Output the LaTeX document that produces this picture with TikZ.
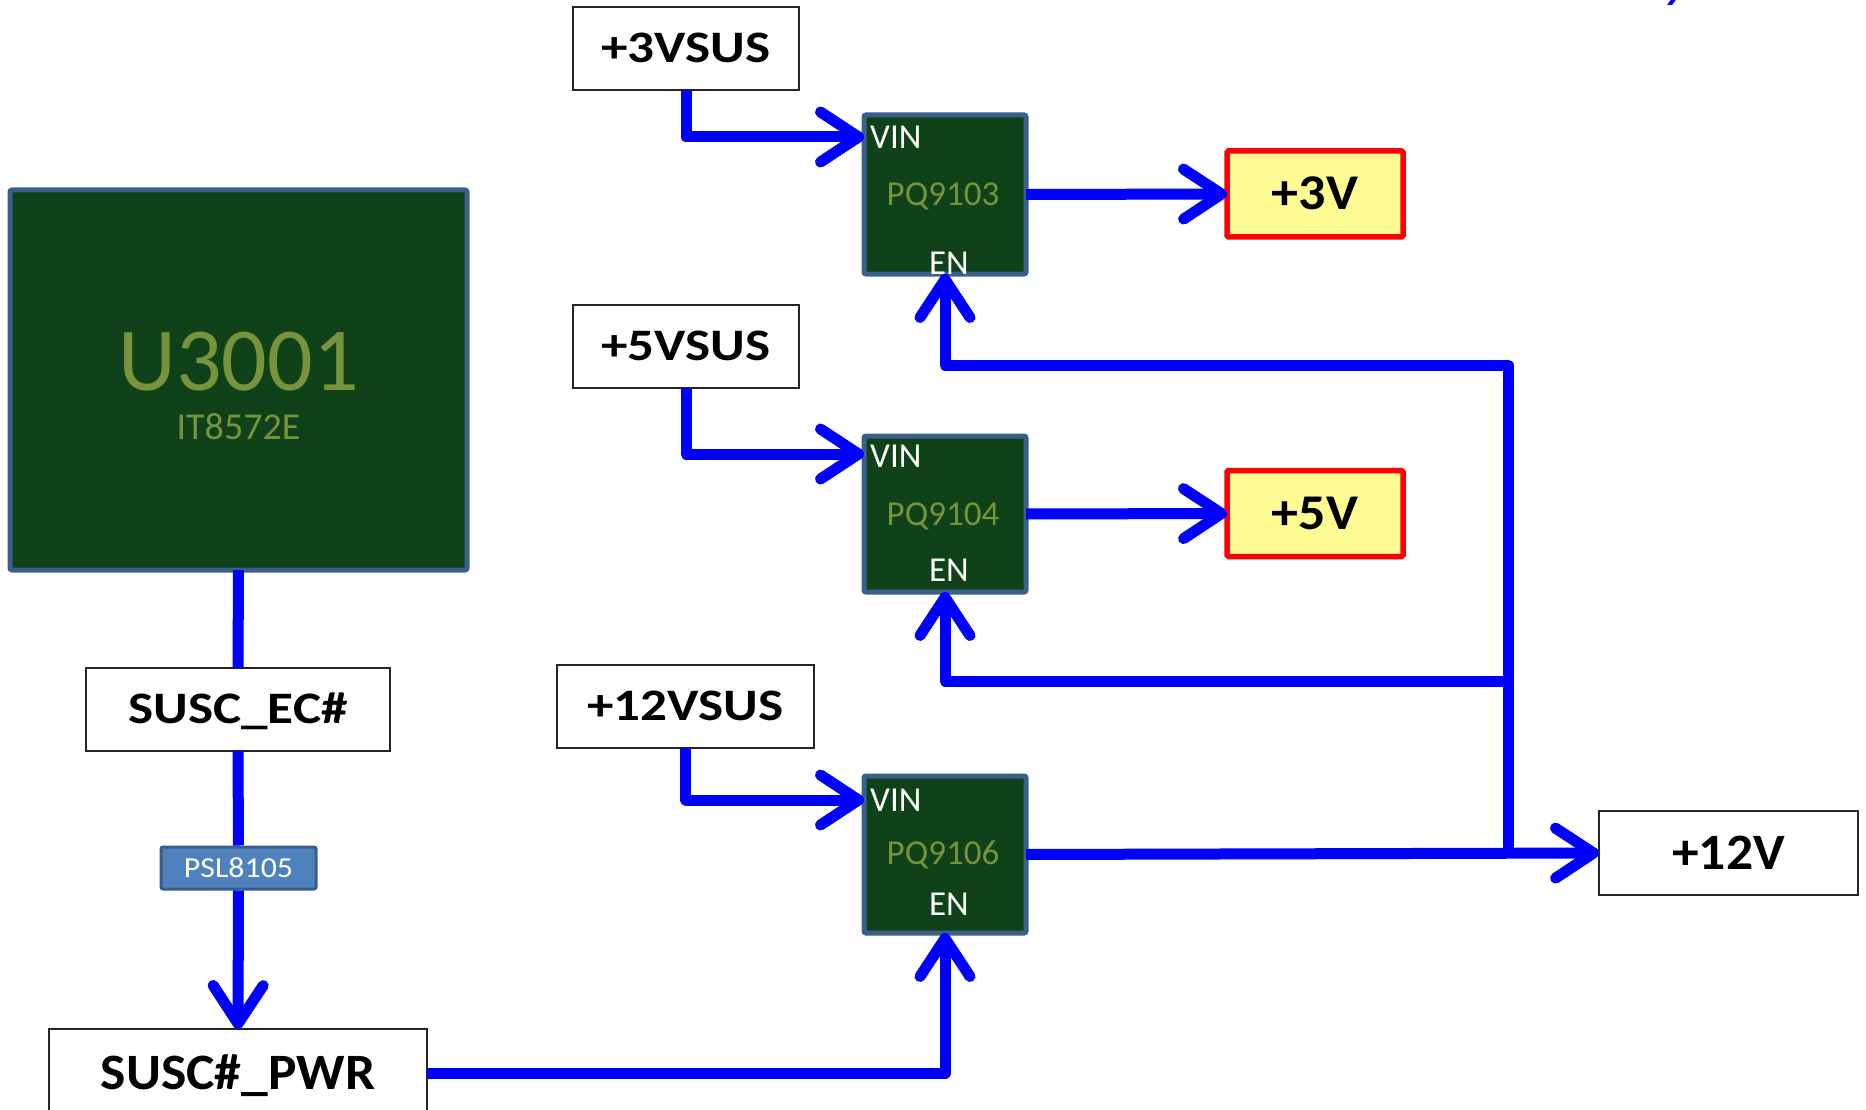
\documentclass[tikz,border=0pt]{standalone}
\usepackage{fontspec}
\setmainfont{Carlito}
\newfontfamily\wideboldA[FakeStretch=1.18,UprightFont=* Bold]{Carlito}
\newfontfamily\wideboldB[FakeStretch=1.08,UprightFont=* Bold]{Carlito}
\newfontfamily\wideboldC[FakeStretch=1.05,UprightFont=* Bold]{Carlito}
\newfontfamily\wideregular[FakeStretch=1.1]{Carlito}
\usetikzlibrary{arrows.meta}
\definecolor{chipfill}{HTML}{10421A}
\definecolor{chipborder}{HTML}{3A5F8B}
\definecolor{chiptext}{HTML}{77933C}
\definecolor{wireblue}{HTML}{0000FF}
\definecolor{pslfill}{HTML}{4F81BD}
\definecolor{pslborder}{HTML}{385D8A}
\definecolor{outfill}{HTML}{FFFB93}
\definecolor{outborder}{HTML}{FF0000}
\newcommand{\fsz}[1]{\fontsize{#1}{#1}\selectfont}
\begin{document}
\begin{tikzpicture}[x=1pt,y=-1pt,
  chipbox/.style={draw=chipborder,fill=chipfill,line width=5pt,rounded corners=2pt,inner sep=0pt,outer sep=0pt},
  sigbox/.style={draw=black!85,fill=white,line width=1.8pt,inner sep=0pt,outer sep=0pt,font=\wideboldA\fsz{45},text height=28pt,text depth=0pt},
  bigsig/.style={sigbox,font=\wideboldC\fsz{51},text height=32pt},
  outbox/.style={draw=outborder,fill=outfill,line width=5.5pt,rounded corners=1.5pt,inner sep=0pt,outer sep=0pt,font=\wideboldB\fsz{50},text height=32pt,text depth=0pt,minimum width=176pt,minimum height=86pt},
  pslbox/.style={draw=pslborder,fill=pslfill,line width=3pt,rounded corners=2pt,inner sep=0pt,text=white,font=\wideregular\fsz{29},text height=18pt,text depth=0pt,minimum width=155pt,minimum height=42pt},
  pinlbl/.style={text=white,font=\fsz{35},inner sep=0pt},
  chiplbl/.style={text=chiptext,font=\fsz{35},inner sep=0pt,text height=22pt,text depth=0pt},
  wire/.style={draw=wireblue,line width=11pt,line join=round,-{Straight Barb[length=38pt,width=50pt,round]}},
  plainwire/.style={draw=wireblue,line width=11pt,line join=round}
]
\useasboundingbox (0,0) rectangle (1866,1110);

% title fragment at top edge
\fill[wireblue] (1667,5) -- (1672,5) -- (1678,-3) -- (1673,-3) -- cycle;

% coordinates of the enable bus
\coordinate (busTop) at (1508,365);
\coordinate (busMid) at (1508,681);
\coordinate (busBot) at (1508,853);

% EC chip
\node[chipbox,minimum width=457pt,minimum height=380pt] (u3001) at (238.5,380) {};
\node[text=chiptext,font=\fsz{90},inner sep=0pt,text height=57pt,text depth=0pt] (u3001name) at (238.5,362) {U3001};
\node[text=chiptext,font=\fsz{38},inner sep=0pt,text height=24pt,text depth=0pt] (u3001part) at (238.5,427) {IT8572E};

% signal boxes on the left
\node[sigbox,minimum width=304pt,minimum height=83pt] (suscec) at (238,709.5) {SUSC\_EC\#};
\node[pslbox] (psl) at (238.5,868) {PSL8105};
\node[bigsig,minimum width=378pt,minimum height=88pt] (suscpwr) at (238,1073) {SUSC\#\_PWR};

% source boxes
\node[sigbox,minimum width=226pt,minimum height=83pt] (v3sus) at (686,48.5) {+3VSUS};
\node[sigbox,minimum width=226pt,minimum height=83pt] (v5sus) at (686,346.5) {+5VSUS};
\node[sigbox,minimum width=257pt,minimum height=83pt] (v12sus) at (685.5,706.5) {+12VSUS};

% output boxes
\node[outbox] (v3) at (1315,194) {+3V};
\node[outbox] (v5) at (1315,513.5) {+5V};
\node[bigsig,minimum width=259pt,minimum height=84pt] (v12) at (1728.5,853) {+12V};

% connectors (drawn under the chips)
\draw[plainwire] (u3001.south) -- (suscec.north);
\draw[plainwire] (suscec.south) -- (psl.north);
\draw[wire] (psl.south) -- (suscpwr.north);

% regulator chips
\node[chipbox,minimum width=162pt,minimum height=159pt] (pq3) at (945,194.5) {};
\node[chipbox,minimum width=162pt,minimum height=156pt] (pq4) at (945,514) {};
\node[chipbox,minimum width=162pt,minimum height=157pt] (pq6) at (945,854.5) {};

\node[chiplbl] (pq3name) at (943,195) {PQ9103};
\node[chiplbl] (pq4name) at (943,514) {PQ9104};
\node[chiplbl] (pq6name) at (943,853) {PQ9106};

\node[pinlbl,anchor=base west] (pq3vin) at (870,149) {VIN};
\node[pinlbl,anchor=base west] (pq4vin) at (870,467) {VIN};
\node[pinlbl,anchor=base west] (pq6vin) at (870,811) {VIN};
\node[pinlbl,anchor=base] (pq3en) at (949,274) {EN};
\node[pinlbl,anchor=base] (pq4en) at (949,581) {EN};
\node[pinlbl,anchor=base] (pq6en) at (949,915) {EN};

% inputs
\draw[wire] (v3sus.south) |- ([yshift=-22pt]pq3.north west);
\draw[wire] (v5sus.south) |- ([yshift=-18pt]pq4.north west);
\draw[wire] (v12sus.south) |- ([yshift=-24pt]pq6.north west);

% outputs
\draw[wire] (pq3.east) -- (v3.west);
\draw[wire] (pq4.east) -- (v5.west);
\draw[wire] (pq6.east) -- (v12.west);

% enables
\draw[wire] (busBot) -- (busTop) -| (pq3.south);
\draw[wire] (busMid) -| (pq4.south);
\draw[wire] (suscpwr.east) -| (pq6.south);
\end{tikzpicture}
\end{document}
